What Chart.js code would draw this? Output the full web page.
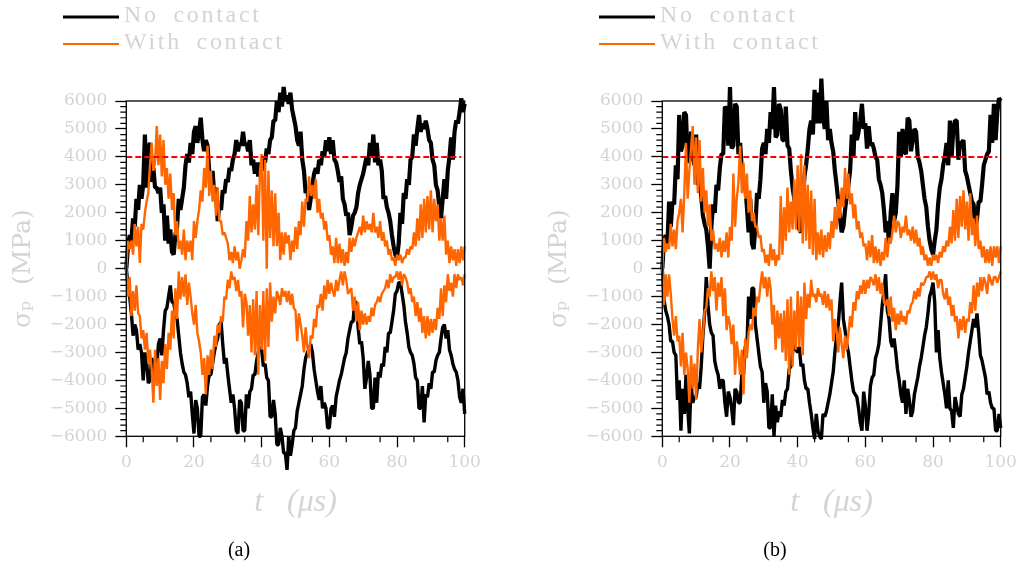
<!DOCTYPE html>
<html><head><meta charset="utf-8">
<style>
html,body{margin:0;padding:0;background:#fff;width:1024px;height:572px;overflow:hidden}
.p{position:absolute;top:0;width:512px;height:572px}
</style>
<script src="https://cdn.jsdelivr.net/npm/chart.js@4/dist/chart.umd.min.js"></script>
</head><body>
<div class="p" style="left:0"><canvas id="a"></canvas></div>
<div class="p" style="left:536px"><canvas id="b"></canvas></div>
<script>
const legendLabels=["No contact","With contact"];
const xTicks=[0,20,40,60,80,100];
const threshold=[4000,4000];
const thresholdT=[0,99];
// all traces: one value per half microsecond, 0 to 100
const blackTopA=[0,800,1200,1000,1800,1500,2500,2100,3000,2500,3000,4800,2900,4300,4500,3100,3600,2900,2900,2700,
2900,2000,2300,1000,1900,900,1400,600,500,1200,1500,2500,2100,2500,2900,3700,4100,3800,4500,4100,
4900,5100,4500,4900,5400,4600,4200,4600,4400,3500,3100,3500,2600,2900,1700,2300,2100,2800,2700,3200,
3100,3600,3500,3900,4100,4600,4200,4500,4400,4900,4400,4500,4200,4600,3700,3900,3400,3800,3300,3800,
3500,3900,3800,4300,4100,4600,4700,5300,5300,6000,5600,6300,5800,6500,6000,6200,5900,6300,5700,5400,
5100,4600,4400,4900,3900,3500,2700,2900,2100,2500,3000,3400,3600,3400,3900,3700,4200,4000,4600,4200,
4700,4100,4600,3900,3800,3500,3100,3300,2500,2300,1900,2000,1200,1500,1900,2000,2200,2700,3000,3200,
3400,3700,4000,3700,4500,4000,4800,3800,4500,3700,3900,3500,2500,2600,2200,2000,1700,1200,800,500,
400,900,2000,1600,2700,2500,3200,3000,3900,4000,4800,4400,5000,5500,4900,5200,5000,5300,5000,4600,
4500,3900,3700,3000,2800,2200,1800,2500,3200,2500,3500,4000,4700,3900,4900,5300,5200,5600,6100,5600,5900];
const blackBottomA=[0,-600,-1000,-1600,-2400,-2000,-2200,-2900,-2700,-3000,-4000,-3000,-3300,-4100,-4000,-3200,-3400,-3800,-3500,-2700,
-2500,-3100,-2200,-1500,-1400,-1000,-600,-1200,-1200,-1600,-1800,-2400,-3000,-3400,-3700,-3800,-4100,-4600,-4400,-5200,
-5900,-4700,-5000,-6000,-6000,-4600,-4500,-4900,-4200,-3800,-3800,-3400,-3000,-2700,-2500,-2000,-1900,-2700,-3400,-3200,
-3800,-4300,-4800,-4500,-5000,-5800,-5900,-4700,-4800,-5800,-5800,-4500,-5000,-4400,-4300,-3800,-3800,-3300,-3000,-2800,
-2900,-3500,-3400,-3900,-4000,-5300,-5300,-4700,-5200,-6300,-6300,-5700,-6000,-6600,-6600,-7200,-6000,-6700,-6300,-5800,
-5700,-5100,-4800,-4500,-4200,-3600,-3200,-3000,-2900,-2700,-3000,-3600,-4000,-4400,-4700,-4200,-5000,-4800,-5000,-5700,
-5700,-5000,-4900,-5300,-4600,-4300,-4000,-3800,-3500,-3200,-3000,-2500,-2200,-1900,-1900,-1200,-1200,-2100,-2700,-2600,
-3200,-4300,-3900,-3300,-3800,-5000,-5000,-3900,-4800,-3700,-3900,-3400,-3500,-2800,-3000,-2300,-2300,-1900,-1500,-900,
-800,-500,-500,-900,-1300,-1900,-2300,-2800,-3000,-3100,-3400,-3900,-4000,-5000,-5000,-4200,-5500,-4500,-4600,-4100,
-4300,-3700,-3700,-3300,-3100,-3000,-2500,-2100,-2000,-2500,-2200,-2900,-3100,-3400,-3600,-3700,-4000,-4600,-4800,-4300,-5200];
const blackTopB=[0,1000,1200,800,2400,1500,2400,2300,3700,3200,5500,4200,4400,5600,5500,3800,3900,4900,4000,3700,
4800,3000,3300,2600,1900,1600,1400,800,0,1500,2300,2000,3000,2800,3600,4100,4100,5800,5700,4400,
6500,4300,4400,5900,5800,4100,4500,3500,3200,3000,2200,1300,2500,900,700,1500,2700,2500,3200,4300,
4500,4100,5000,4500,5600,5000,6500,4700,4800,5900,5700,4600,4600,5800,4400,4300,3500,2900,2500,2000,
1800,1400,1300,2200,3300,3700,4300,5000,5300,4800,6400,5200,6300,5200,6800,5500,5000,6000,4600,5000,
4500,4200,3500,3000,2400,1800,1300,1500,2100,2600,3000,3500,4800,4000,5600,4600,4900,5300,5900,5000,
5200,4300,5100,4400,4500,4300,4000,3900,3200,3000,2700,2100,1300,1700,900,2000,2700,1700,2000,3000,
4900,4000,5000,4200,4100,5400,5300,4200,4600,5000,4900,4000,3800,3500,3000,2500,2200,1500,1000,700,
500,1000,1400,2300,2900,3200,3700,4000,4500,3700,5300,4000,5000,5300,5300,3900,4500,4500,4600,3500,
3300,3000,2700,2400,2300,1400,1800,2400,2400,3000,3700,3900,4100,4200,5500,4500,5900,4600,5600,6100,6000];
const blackBottomB=[0,-1100,-1500,-1700,-2000,-2600,-2600,-3000,-3100,-4700,-4000,-5800,-4300,-5200,-3800,-5000,-5900,-4100,-4800,-4600,
-4600,-4100,-4300,-3500,-2400,-1600,-300,-1300,-2000,-2300,-2400,-3300,-3600,-3800,-4300,-4000,-4000,-4800,-5300,-4400,
-4600,-5000,-5600,-4300,-4400,-4800,-4800,-3800,-3800,-2800,-2800,-1000,-1800,-700,-700,-2000,-2500,-3000,-3500,-3700,
-4800,-4100,-4400,-5700,-5700,-4500,-6000,-4900,-5500,-5100,-5300,-4700,-4900,-4400,-4300,-3600,-3500,-3000,-2600,-2900,
-3000,-2800,-3500,-3400,-4000,-4300,-4300,-4800,-5200,-5700,-6100,-5200,-5800,-6000,-6100,-5200,-5300,-5100,-4800,-4500,
-4100,-3700,-3000,-2400,-2000,-1200,-500,-1800,-2200,-2700,-3000,-3500,-4000,-4400,-4500,-4600,-5000,-5500,-5800,-4400,
-4900,-5800,-5200,-4200,-3900,-3800,-3200,-3000,-2700,-2000,-1300,-800,-200,-1500,-1800,-2600,-2800,-2500,-3000,-3600,
-4000,-4500,-4800,-4000,-5200,-4300,-4700,-5300,-5100,-4500,-4200,-3900,-3500,-3200,-2800,-2400,-2100,-1600,-1000,-800,
-500,-1200,-3000,-2200,-3200,-3700,-4100,-4500,-5000,-4000,-5000,-5100,-5700,-4600,-4900,-5200,-5300,-4500,-4300,-3900,
-3500,-3000,-2600,-2200,-1800,-2100,-1600,-2300,-3100,-3300,-3600,-3900,-4500,-4400,-4800,-5000,-5000,-5800,-5800,-5200,-5700];
const orangeTopA=[0,1000,700,1000,500,1600,800,1500,200,1600,1400,2000,2400,2700,3700,4500,3500,3800,5100,3700,
4800,3300,4600,3000,3600,2500,3400,2100,2700,1200,1700,700,1000,500,1400,300,1000,600,1000,300,
1700,1100,1700,2100,2800,2400,3600,2900,4400,2600,3500,2400,3000,1900,2900,1700,1700,1200,1300,1100,
900,300,600,200,800,300,600,0,300,700,400,1700,1000,2600,1300,2300,1400,3000,1200,3500,
4100,1000,3900,0,3500,1100,2800,800,2700,800,2000,300,1300,500,1300,900,1200,300,1000,600,
1500,700,1700,1200,2400,1500,2500,2400,3300,2600,3000,2500,3200,2000,2500,1800,2000,1400,1700,1000,
1200,500,800,200,1100,200,900,200,700,100,600,200,1100,600,1100,800,1100,1300,1500,1200,
1900,1300,1700,1400,1600,1300,2000,1300,1500,1100,1700,1000,1300,800,1000,500,700,300,400,100,
500,300,500,200,400,400,700,500,800,700,1300,800,1800,1000,2300,1100,2500,1300,2600,1400,
2800,1300,2500,1700,2300,1000,1800,1000,1900,500,1000,200,800,300,700,100,700,200,800,300,800];
const orangeBottomA=[0,-1000,-300,-1700,-800,-1500,-600,-1600,-1700,-2500,-2200,-2900,-2300,-3400,-2900,-3600,-4800,-2900,-4200,-3200,
-4700,-3300,-4100,-2700,-3600,-2300,-2900,-1500,-2500,-700,-1800,-100,-1100,-300,-1000,-200,-1300,-500,-1000,-1600,
-2000,-1300,-2300,-2600,-3000,-3800,-3200,-4500,-3100,-3800,-2900,-3600,-2400,-2800,-2000,-2300,-1700,-1900,-1000,-1100,
-400,-700,-100,-400,-300,-800,-400,-1000,-800,-2100,-900,-1200,-2400,-1300,-3000,-1100,-3100,-800,-3800,-1300,
-2900,-800,-3300,-700,-2800,-500,-1900,-1000,-1600,-800,-1000,-1300,-700,-1000,-800,-1200,-800,-1300,-900,-1400,
-1500,-2600,-1600,-2000,-2400,-3000,-2100,-2800,-3200,-2400,-2500,-1800,-2100,-1300,-1400,-900,-1500,-600,-1100,-400,
-900,-500,-800,-1000,-400,-800,-400,-100,-600,-100,-400,-900,-800,-700,-1500,-1000,-1900,-1200,-2200,-1500,
-2000,-1600,-2000,-1700,-1900,-1400,-1700,-1300,-1200,-1000,-1200,-900,-800,-700,-400,-700,-200,-500,-300,-300,
-100,-400,-100,-600,-200,-300,-500,-900,-700,-1200,-1000,-1700,-1200,-1900,-1400,-2300,-1700,-2500,-1700,-2400,
-1800,-2300,-1800,-2200,-1400,-1800,-700,-1700,-600,-1200,-200,-800,-500,-1000,-200,-700,-200,-400,-300,-600,-200];
const orangeTopB=[0,1100,600,900,700,1600,800,1400,700,1700,2000,2500,1300,2700,4500,2500,3500,4300,5100,3000,
4700,2700,4600,2400,3600,2000,2800,1500,2300,1000,1400,700,900,600,1100,400,1000,600,1300,400,
1500,1000,3400,1500,2500,3100,4400,2700,3800,2500,3400,2000,2800,1700,2000,1500,1500,1100,1200,600,
700,200,500,100,900,300,700,100,500,300,2600,500,2200,1000,2900,1300,2400,1400,3200,1400,
3700,1300,4100,900,3700,1000,3000,700,2800,500,2500,300,1300,500,1400,400,1200,600,1300,700,
1700,1100,2200,1400,2500,1800,2900,2200,3600,2500,3400,2300,2700,1800,2300,1400,1700,1100,1300,800,
900,300,1000,400,1200,200,800,200,700,100,600,300,1100,400,1100,900,1300,1900,1300,1700,
1600,1100,1500,1300,1900,1200,1400,1000,1500,900,1400,800,1100,500,800,300,500,100,400,100,
500,300,500,200,600,400,800,600,1000,800,1500,900,2100,1000,2500,1100,2600,1500,2800,1400,
2400,1000,2700,1200,1800,800,1900,700,1000,400,800,200,700,200,800,100,800,400,800,200,800];
const orangeBottomB=[0,-1300,-200,-1000,-200,-900,-1800,-2400,-1700,-2600,-2400,-3500,-2300,-3800,-3000,-3600,-4800,-3100,-4300,-3400,
-4700,-2900,-1800,-3000,-2400,-1500,-1400,-700,-1000,-100,-800,-300,-1500,-500,-1000,-300,-1700,-700,-2200,-1700,
-2000,-2700,-2000,-3800,-2600,-3100,-3800,-2900,-4500,-2500,-3200,-2300,-2000,-2200,-1400,-1700,-1000,-1200,-600,-100,
-700,-300,-1000,-300,-700,-2000,-1300,-2900,-1500,-2500,-1600,-3000,-1500,-3300,-1100,-3800,-1000,-3500,-1500,-2900,
-800,-2800,-1000,-3100,-500,-1800,-900,-1400,-400,-1000,-900,-1200,-700,-1000,-900,-1300,-800,-1400,-900,-1500,
-1100,-2600,-1800,-2200,-3000,-2100,-2700,-3200,-2400,-2900,-2300,-1700,-2100,-1200,-1500,-800,-1100,-600,-900,-400,
-900,-400,-700,-300,-400,-600,-200,-800,-300,-900,-500,-1200,-1300,-1100,-1700,-1000,-1900,-1400,-2200,-1600,
-2000,-1500,-1900,-1700,-2000,-1500,-1600,-1300,-1200,-800,-1100,-700,-1000,-500,-600,-500,-300,-300,-100,-400,
-100,-400,-200,-700,-400,-400,-900,-1100,-700,-1300,-1000,-1700,-1300,-1900,-1700,-2500,-1800,-2200,-1700,-2300,
-1800,-1900,-1200,-1600,-600,-1500,-500,-1000,-300,-800,-300,-500,-900,-200,-400,-600,-300,-300,-500,-300,-100];

const GREY="#d4d4d4", BLACK="#000000", ORANGE="#ff6600", RED="#ff0000";
const pts=vals=>vals.map((v,i)=>({x:i*0.5,y:v}));
const extras={
  id:"extras",
  afterDatasetsDraw(c,_a,o){
    const {ctx,chartArea:A,scales:{x,y}}=c;
    ctx.save();
    ctx.strokeStyle="#000";ctx.lineWidth=1.3;
    ctx.strokeRect(A.left,A.top,A.right-A.left,A.bottom-A.top);
    ctx.lineWidth=1.2;ctx.beginPath();
    for(let t=5;t<100;t+=10){const p=x.getPixelForValue(t);ctx.moveTo(p,A.bottom);ctx.lineTo(p,A.bottom+6);}
    for(let v=-6000;v<6000;v+=200){if(v%1000===0)continue;const p=y.getPixelForValue(v);ctx.moveTo(A.left,p);ctx.lineTo(A.left-6,p);}
    ctx.stroke();
    const ys=[17,44];
    legendLabels.forEach((s,i)=>{
      ctx.strokeStyle=i?ORANGE:BLACK;ctx.lineWidth=i?2:3;
      ctx.beginPath();ctx.moveTo(63,ys[i]);ctx.lineTo(119,ys[i]);ctx.stroke();
      ctx.fillStyle=GREY;ctx.font="24px 'Liberation Serif'";ctx.textBaseline="middle";ctx.textAlign="left";
      ctx.letterSpacing="2.7px";ctx.wordSpacing="6px";
      ctx.fillText(s,124,ys[i]-1);
      ctx.letterSpacing="0px";ctx.wordSpacing="0px";
    });
    ctx.fillStyle="#000";ctx.font="20px 'Liberation Serif'";ctx.textAlign="center";ctx.textBaseline="middle";
    ctx.fillText(o.caption,239,551);
    ctx.restore();
  }
};
function make(id,caption,bt,bb,ot,ob){
  const line=(label,data,color,w,order,dash)=>({label,data,borderColor:color,backgroundColor:color,borderWidth:w,
    pointRadius:0,pointHoverRadius:0,tension:0,clip:false,order,borderDash:dash||[],borderJoinStyle:"bevel"});
  new Chart(document.getElementById(id),{
    type:"line",
    data:{datasets:[
      line("4000 MPa",thresholdT.map((t,i)=>({x:t,y:threshold[i]})),RED,2,1,[6,3]),
      line(legendLabels[1],pts(ot),ORANGE,2.4,2),
      line(legendLabels[1],pts(ob),ORANGE,2.4,2),
      line(legendLabels[0],pts(bt),BLACK,4.2,3),
      line(legendLabels[0],pts(bb),BLACK,3.4,3)
    ]},
    options:{
      responsive:false,animation:false,
      events:[],
      layout:{padding:{left:0,top:101,right:47.3,bottom:40}},
      plugins:{legend:{display:false},tooltip:{enabled:false},title:{display:false},extras:{caption}},
      scales:{
        x:{type:"linear",min:0,max:100,
          afterBuildTicks:s=>{s.ticks=xTicks.map(v=>({value:v}));},
          afterFit:s=>{s.height=95.7;},
          grid:{drawOnChartArea:false,drawTicks:true,tickLength:11,tickColor:"#000",tickWidth:1.3},
          border:{display:false},
          ticks:{color:GREY,padding:5,maxRotation:0,autoSkip:false,font:{family:"'DejaVu Serif'",size:17}},
          title:{display:true,text:"t   (μs)",color:GREY,font:{family:"'Liberation Serif'",size:32,style:"italic"},padding:{top:0,bottom:10}}
        },
        y:{type:"linear",min:-6000,max:6000,
          ticks:{stepSize:1000,color:GREY,padding:8,autoSkip:false,font:{family:"'DejaVu Serif'",size:17},
            callback:v=>String(v).replace("-","\u2212")},
          afterFit:s=>{s.width=126.3;},
          grid:{drawOnChartArea:false,drawTicks:true,tickLength:11,tickColor:"#000",tickWidth:1.3},
          border:{display:false},
          title:{display:true,text:"σₚ  (MPa)",color:GREY,font:{family:"'DejaVu Serif'",size:25},padding:{top:8,bottom:0}}
        }
      }
    },
    plugins:[extras]
  });
}
for(const id of ["a","b"]){const c=document.getElementById(id);c.width=512;c.height=572;c.style.width="512px";c.style.height="572px";}
make("a","(a)",blackTopA,blackBottomA,orangeTopA,orangeBottomA);
make("b","(b)",blackTopB,blackBottomB,orangeTopB,orangeBottomB);
</script>
</body></html>
